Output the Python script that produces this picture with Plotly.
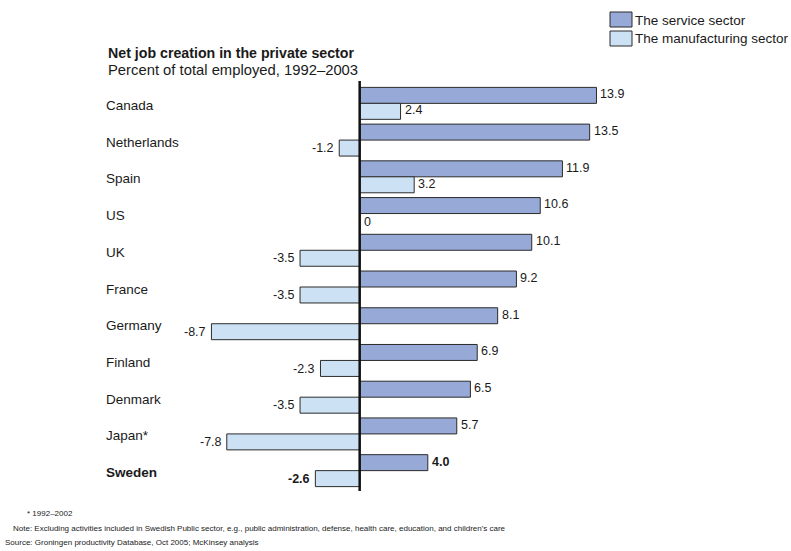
import plotly.graph_objects as go

countries = ["Canada", "Netherlands", "Spain", "US", "UK", "France", "Germany",
             "Finland", "Denmark", "Japan*", "Sweden"]
service = [13.9, 13.5, 11.9, 10.6, 10.1, 9.2, 8.1, 6.9, 6.5, 5.7, 4.0]
manufacturing = [2.4, -1.2, 3.2, 0.0, -3.5, -3.5, -8.7, -2.3, -3.5, -7.8, -2.6]
service_labels = ["13.9", "13.5", "11.9", "10.6", "10.1", "9.2", "8.1", "6.9", "6.5", "5.7", "4.0"]
manuf_labels = ["2.4", "-1.2", "3.2", "0", "-3.5", "-3.5", "-8.7", "-2.3", "-3.5", "-7.8", "-2.6"]
series_names = ["The service sector", "The manufacturing sector"]

W, H = 791, 551
ML, MR, MT, MB = 191, 186, 85, 62
X_RANGE = [-9.9, 14.4]
plot_w = W - ML - MR
plot_h = H - MT - MB

SERVICE_COL = "#97a9d6"
MANUF_COL = "#cce2f4"
EDGE = "#2b2b2b"
TEXT = "#1a1a1a"
FONT = "Liberation Sans, Arial, sans-serif"


def px_x(px):
    return (px - ML) / plot_w


def px_y(py):
    return 1 - (py - MT) / plot_h


fig = go.Figure()
fig.add_trace(go.Bar(
    y=countries, x=service, orientation="h", name=series_names[0],
    marker=dict(color=SERVICE_COL, line=dict(color=EDGE, width=1)),
    offsetgroup="s", showlegend=False,
))
fig.add_trace(go.Bar(
    y=countries, x=manufacturing, orientation="h", name=series_names[1],
    marker=dict(color=MANUF_COL, line=dict(color=EDGE, width=1)),
    offsetgroup="m", showlegend=False,
))

annotations = []
for i, c in enumerate(countries):
    bold = c == "Sweden"
    wrap = (lambda s: f"<b>{s}</b>") if bold else (lambda s: s)
    # value labels beside the end of each bar
    for val, lab, shift in ((service[i], service_labels[i], -0.22),
                             (manufacturing[i], manuf_labels[i], 0.22)):
        if val >= 0:
            annotations.append(dict(
                x=val, y=i + shift, xref="x", yref="y", text=wrap(lab),
                showarrow=False, xanchor="left", yanchor="middle", xshift=2,
                yshift=1 if val > 0 else 0,
                font=dict(size=12.5, color=TEXT, family=FONT)))
        else:
            annotations.append(dict(
                x=val, y=i + shift, xref="x", yref="y", text=wrap(lab),
                showarrow=False, xanchor="right", yanchor="middle", xshift=-3,
                font=dict(size=12.5, color=TEXT, family=FONT)))
    # country names, left-aligned in the margin
    annotations.append(dict(
        x=px_x(104), y=i, xref="paper", yref="y", text=wrap(c),
        showarrow=False, xanchor="left", yanchor="middle", yshift=-2,
        font=dict(size=13.5, color=TEXT, family=FONT)))

annotations += [
    dict(x=px_x(106), y=px_y(52.5), xref="paper", yref="paper",
         text="<b>Net job creation in the private sector</b>", showarrow=False,
         xanchor="left", yanchor="middle", font=dict(size=14.2, color=TEXT, family=FONT)),
    dict(x=px_x(106), y=px_y(70), xref="paper", yref="paper",
         text="Percent of total employed, 1992\u20132003", showarrow=False,
         xanchor="left", yanchor="middle", font=dict(size=14.8, color=TEXT, family=FONT)),
    dict(x=px_x(25), y=px_y(513), xref="paper", yref="paper",
         text="* 1992\u20132002", showarrow=False,
         xanchor="left", yanchor="middle", font=dict(size=8, color=TEXT, family=FONT)),
    dict(x=px_x(11), y=px_y(528), xref="paper", yref="paper",
         text="Note: Excluding activities included in Swedish Public sector, e.g., public administration, "
              "defense, health care, education, and children's care",
         showarrow=False, xanchor="left", yanchor="middle",
         font=dict(size=8, color=TEXT, family=FONT)),
    dict(x=px_x(3), y=px_y(542), xref="paper", yref="paper",
         text="Source: Groningen productivity Database, Oct 2005; McKinsey analysis",
         showarrow=False, xanchor="left", yanchor="middle",
         font=dict(size=8, color=TEXT, family=FONT)),
]

# legend swatches and captions
shapes = []
for k, (name, col) in enumerate(zip(series_names, [SERVICE_COL, MANUF_COL])):
    top = 12 + k * 19
    shapes.append(dict(type="rect", xref="paper", yref="paper",
                       x0=px_x(610), x1=px_x(632), y0=px_y(top), y1=px_y(top + 15),
                       fillcolor=col, line=dict(color=EDGE, width=1)))
    annotations.append(dict(x=px_x(633), y=px_y(top + 8), xref="paper", yref="paper",
                            text=name, showarrow=False, xanchor="left", yanchor="middle",
                            font=dict(size=13.5, color=TEXT, family=FONT)))

# vertical zero line
shapes.append(dict(type="line", x0=0, x1=0, xref="x", y0=px_y(81), y1=px_y(491), yref="paper",
                   line=dict(color="#111111", width=2.5)))

fig.update_layout(
    width=W, height=H,
    margin=dict(l=ML, r=MR, t=MT, b=MB),
    paper_bgcolor="white", plot_bgcolor="white",
    barmode="group", bargap=0.13, bargroupgap=0,
    xaxis=dict(range=X_RANGE, visible=False, showgrid=False, zeroline=False),
    yaxis=dict(range=[len(countries) - 0.5, -0.5], visible=False, showgrid=False),
    font=dict(family=FONT, size=12, color=TEXT),
    showlegend=False,
    annotations=annotations,
    shapes=shapes,
)

fig.write_html("out.html")
